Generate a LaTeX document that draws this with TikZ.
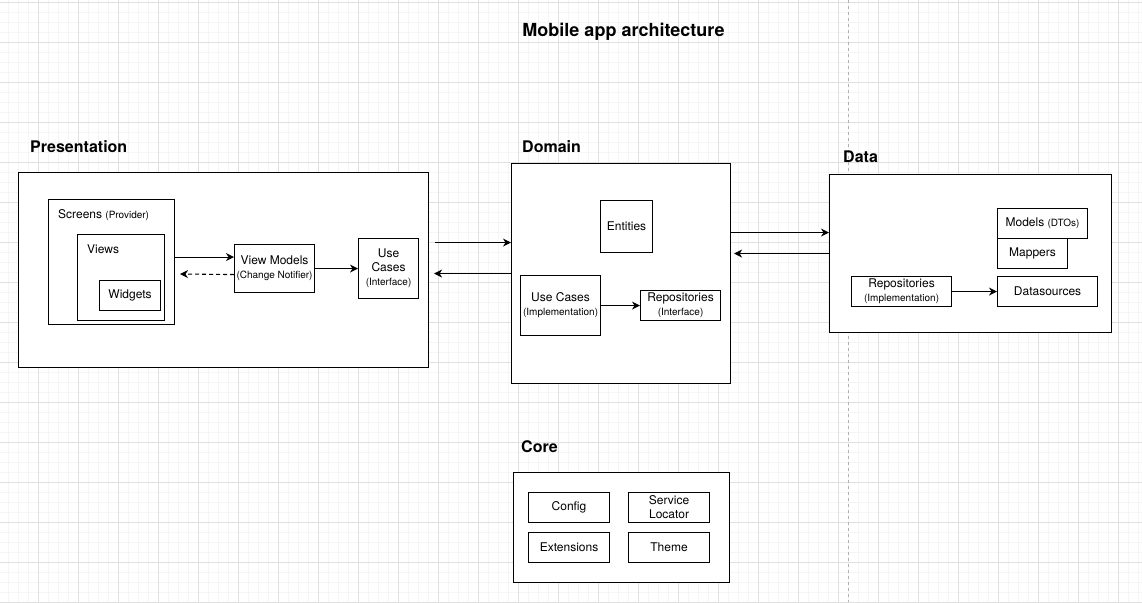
\documentclass[tikz,border=0pt]{standalone}
\usepackage{fontspec}
\setmainfont{TeX Gyre Heros}
\usepackage{tikz}
\usetikzlibrary{arrows.meta}
\definecolor{gridminor}{rgb}{0.96,0.96,0.96}
\definecolor{gridmajor}{rgb}{0.88,0.88,0.88}
\definecolor{sepgray}{rgb}{0.70,0.70,0.70}
\newcommand{\smalltxt}[1]{{\fontsize{10}{12}\selectfont #1}}
\tikzset{
  box/.style={draw, fill=white, line width=1.1pt, inner sep=0pt, anchor=north west, align=center, font=\fontsize{12}{14}\selectfont},
  boxlbl/.style={anchor=west, inner sep=0pt, font=\fontsize{12}{14}\selectfont},
  layer/.style={anchor=west, inner sep=0pt, font=\bfseries\fontsize{16}{18}\selectfont},
  arr/.style={-{Stealth[length=8pt,width=8pt,inset=2.5pt]}, line width=1.1pt},
}

\begin{document}
\begin{tikzpicture}[x=1pt,y=-1pt]
\useasboundingbox (0,0) rectangle (1142,602);
\fill[white] (0,0) rectangle (1142,602);
% grid
\foreach \x in {8,18,...,1138} \draw[gridminor, line width=0.8pt] (\x,0) -- (\x,602);
\foreach \y in {2,12,...,602} \draw[gridminor, line width=0.8pt] (0,\y) -- (1142,\y);
\foreach \x in {38,78,...,1118} \draw[gridmajor, line width=0.8pt] (\x,0) -- (\x,602);
\foreach \y in {2,42,...,602} \draw[gridmajor, line width=0.8pt] (0,\y) -- (1142,\y);
\draw[sepgray, dash pattern=on 3pt off 3pt, line width=0.8pt] (848,0) -- (848,602);

\node[font=\bfseries\fontsize{18}{20}\selectfont] (title) at (623.5,32) {Mobile app architecture};

% presentation
\node[layer] (preslbl) at (30,147) {Presentation};
\node[box, minimum width=410, minimum height=195] (pres) at (18,172) {};
\node[box, minimum width=126, minimum height=125] (screens) at (48,199) {};
\node[boxlbl] (screenslbl) at (58,215) {Screens \smalltxt{(Provider)}};
\node[box, minimum width=87, minimum height=86] (views) at (77,234) {};
\node[boxlbl] (viewslbl) at (87,249) {Views};
\node[box, minimum width=61, minimum height=30] (widgets) at (99,280) {Widgets};
\node[box, minimum width=80, minimum height=48] (vm) at (234,244) {View Models\\\smalltxt{(Change Notifier)}};
\node[box, minimum width=60, minimum height=60] (ucif) at (358,238) {Use\\Cases\\\smalltxt{(Interface)}};
\coordinate (vmback) at (180,274);

% domain
\node[layer] (domainlbl) at (522,147) {Domain};
\node[box, minimum width=219, minimum height=220] (domain) at (511,163) {};
\node[box, minimum width=52, minimum height=52] (entities) at (600,200) {Entities};
\node[box, minimum width=80, minimum height=60] (ucimpl) at (520,275) {Use Cases\\\smalltxt{(Implementation)}};
\node[box, minimum width=80, minimum height=30] (reposif) at (640,290) {Repositories\\\smalltxt{(Interface)}};

% data
\node[layer] (datalbl) at (843,157) {Data};
\node[box, minimum width=282, minimum height=158] (data) at (829,174) {};
\node[box, minimum width=90, minimum height=30] (models) at (997,208) {Models \smalltxt{(DTOs)}};
\node[box, minimum width=70, minimum height=30] (mappers) at (997,238) {Mappers};
\node[box, minimum width=100, minimum height=30] (reposimpl) at (851,276) {Repositories\\\smalltxt{(Implementation)}};
\node[box, minimum width=100, minimum height=30] (datasrc) at (997,276) {Datasources};

% core
\node[layer] (corelbl) at (521,447) {Core};
\node[box, minimum width=216, minimum height=110] (core) at (513,472) {};
\node[box, minimum width=81, minimum height=30] (config) at (528,492) {Config};
\node[box, minimum width=81, minimum height=30] (locator) at (628,492) {Service\\Locator};
\node[box, minimum width=81, minimum height=30] (ext) at (528,532) {Extensions};
\node[box, minimum width=81, minimum height=30] (theme) at (628,532) {Theme};

% connectors
\draw[arr] ([yshift=11.5pt]vm.west -| screens.east) -- ([yshift=11.5pt]vm.west);
\draw[arr, dash pattern=on 4pt off 3pt] ([yshift=-6pt]vm.west) -- (vmback);
\draw[arr] (vm) -- (ucif);
\draw[arr, shorten <=6pt] ([yshift=31pt]domain.west -| pres.east) -- ([yshift=31pt]domain.west);
\draw[arr, shorten >=5pt] (domain.west) -- (domain.west -| pres.east);
\draw[arr] (ucimpl) -- (reposif);
\draw[arr] ([yshift=21pt]data.west -| domain.east) -- ([yshift=21pt]data.west);
\draw[arr, shorten >=3pt] (data.west) -- (data.west -| domain.east);
\draw[arr] (reposimpl) -- (datasrc);
\end{tikzpicture}
\end{document}
